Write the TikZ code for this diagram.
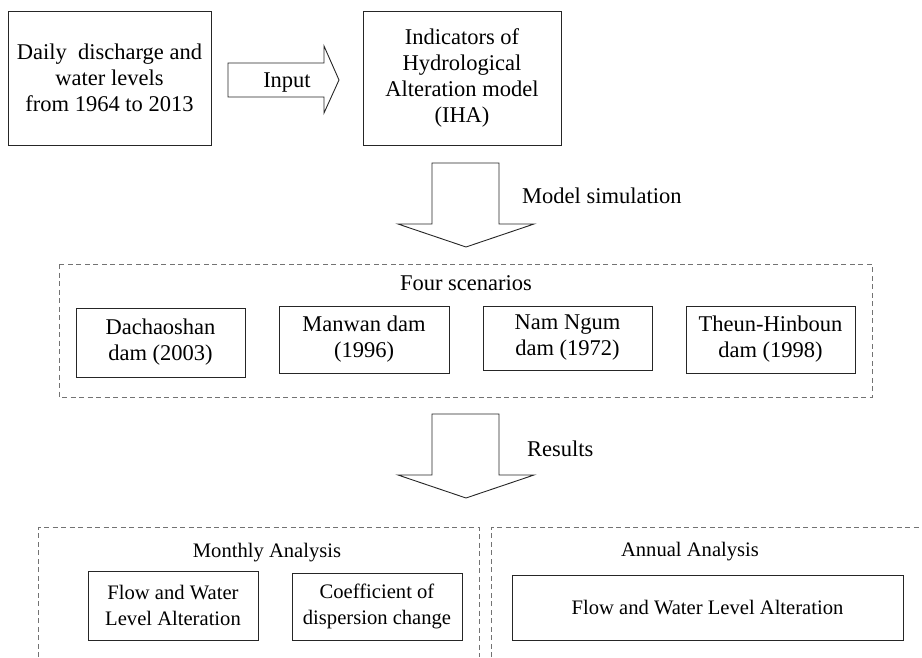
\documentclass[tikz,border=0pt]{standalone}
\usepackage{fontspec}
\setmainfont{Liberation Serif}
\begin{document}
\begin{tikzpicture}[x=1pt,y=-1pt,
  bigfont/.style={font=\fontsize{22.5}{26}\selectfont},
  smallfont/.style={font=\fontsize{20.6}{25.5}\selectfont},
  box/.style={draw=black!85, line width=0.9pt, align=center, inner sep=0pt, bigfont},
  sbox/.style={draw=black!85, line width=0.9pt, align=center, inner sep=0pt, smallfont},
  blockarrow/.style={draw=black!85, line width=0.9pt, fill=white, line join=miter},
  frame/.style={draw=black!55, line width=0.9pt, dash pattern=on 5pt off 3.5pt},
  lbl/.style={bigfont, inner sep=0pt}
]
\useasboundingbox (0,0) rectangle (922,657);

% top row
\node[box, minimum width=203pt, minimum height=134pt] (data) at (109.5,78)
  {Daily\ \ discharge and\\ water levels\\ from 1964 to 2013};
\node[box, minimum width=198pt, minimum height=134pt] (iha) at (462,78)
  {Indicators of\\ Hydrological\\ Alteration model\\ (IHA)};

% input arrow
\draw[blockarrow] (228,63) -- (324,63) -- (324,46) -- (339,80) -- (324,113) -- (324,97) -- (228,97) -- cycle;
\node[lbl, anchor=base] (input) at (287,87) {Input};

% model simulation arrow
\draw[blockarrow] (432,163) -- (499,163) -- (499,224) -- (534,224) -- (466,247) -- (398,224) -- (432,224) -- cycle;
\node[lbl, anchor=base west] (sim) at (522,203) {Model simulation};

% scenarios frame
\draw[frame] (59,264) rectangle (872,397);
\node[lbl, anchor=base] (four) at (466,290) {Four scenarios};
\node[box, minimum width=169pt, minimum height=69pt] (d1) at (160.5,342.5) {Dachaoshan\\ dam (2003)};
\node[box, minimum width=170pt, minimum height=67pt] (d2) at (364,339.5) {Manwan dam\\ (1996)};
\node[box, minimum width=169pt, minimum height=64pt] (d3) at (567.5,338) {Nam Ngum\\ dam (1972)};
\node[box, minimum width=169pt, minimum height=67pt] (d4) at (770.5,339.5) {Theun-Hinboun\\ dam (1998)};

% results arrow
\draw[blockarrow] (432,414) -- (499,414) -- (499,475) -- (534,475) -- (466,498) -- (398,475) -- (432,475) -- cycle;
\node[lbl, anchor=base west] (res) at (527,456) {Results};

% analysis frames
\draw[frame] (38,657) -- (38,527) -- (479,527) -- (479,657);
\draw[frame] (491,657) -- (491,527) -- (922,527);
\node[smallfont, inner sep=0pt, anchor=base] (monthly) at (267,557) {Monthly Analysis};
\node[smallfont, inner sep=0pt, anchor=base] (annual) at (690,556) {Annual Analysis};
\node[sbox, minimum width=170pt, minimum height=69pt] (m1) at (173,605.5) {Flow and Water\\ Level Alteration};
\node[sbox, minimum width=170pt, minimum height=67pt] (m2) at (377,606.5) {Coefficient of\\ dispersion change};
\node[sbox, minimum width=391pt, minimum height=65pt] (a1) at (707.5,607.5) {Flow and Water Level Alteration};
\end{tikzpicture}
\end{document}
